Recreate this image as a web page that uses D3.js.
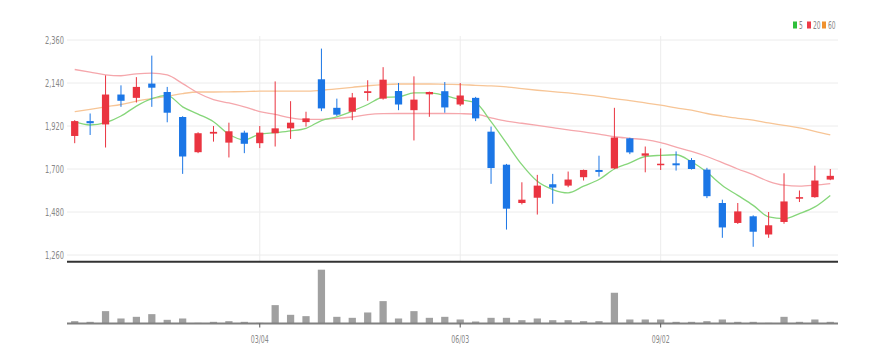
<!DOCTYPE html>
<html>
<head>
<meta charset="utf-8">
<script src="https://cdn.jsdelivr.net/npm/d3@7"></script>
<style>
  html, body { margin: 0; padding: 0; background: #fff; }
  svg { display: block; }
  text { font-family: "Liberation Sans Narrow", "DejaVu Sans Condensed", "Roboto", sans-serif; fill: #888; }
</style>
</head>
<body>
<svg id="chart" width="886" height="364"></svg>
<script>
// ---------- data ----------
const dates = ["12/11","12/18","12/25","01/01","01/08","01/15","01/22","01/29","02/05","02/12",
  "02/19","02/26","03/04","03/11","03/18","03/25","04/01","04/08","04/15","04/22",
  "04/29","05/06","05/13","05/20","05/27","06/03","06/10","06/17","06/24","07/01",
  "07/08","07/15","07/22","07/29","08/05","08/12","08/19","08/26","09/02","09/09",
  "09/16","09/23","09/30","10/07","10/14","10/21","10/28","11/04","11/11","11/18"];
const openP  = [1869,1945,1928,2081,2064,2137,2094,1966,1786,1881,1835,1886,1832,1883,1908,1940,2159,2013,1993,2089,
  2060,2099,2001,2082,2098,2030,2064,1891,1722,1526,1553,1622,1615,1658,1695,1703,1857,1768,1720,1729,
  1746,1697,1526,1424,1458,1365,1429,1548,1556,1646];
const highP  = [1950,1984,2179,2128,2170,2280,2120,1970,1888,1920,1937,1896,1920,2148,2047,1993,2316,2060,2089,2154,
  2221,2140,2174,2096,2145,2140,2069,1917,1726,1632,1670,1675,1687,1697,1768,2013,1860,1815,1805,1790,
  1756,1706,1543,1526,1463,1480,1678,1590,1717,1700];
const lowP   = [1832,1874,1810,2018,2040,2018,1939,1675,1781,1840,1759,1781,1807,1815,1854,1917,1996,1971,1950,2049,
  2055,2001,1846,1967,1988,2022,1945,1624,1390,1519,1467,1522,1607,1641,1661,1700,1776,1683,1695,1692,
  1697,1551,1348,1419,1302,1348,1420,1531,1553,1643];
const closeP = [1945,1934,2081,2049,2120,2116,1988,1764,1883,1890,1893,1829,1886,1908,1937,1959,2010,1978,2066,2098,
  2157,2030,2055,2094,2015,2076,1959,1705,1497,1543,1615,1605,1646,1695,1685,1861,1785,1780,1727,1719,
  1700,1561,1401,1483,1379,1412,1534,1556,1641,1665];
const volume = [7000,5000,37000,15000,20000,28000,11000,15000,2000,5000,7000,5000,2000,55000,26000,22000,161000,20000,17000,33000,
  67000,15000,37000,17000,20000,12000,6000,17000,17000,10000,15000,10000,10000,7000,7000,92000,12000,12000,12000,5000,
  5000,7000,12000,5000,5000,2000,20000,5000,12000,5000];
const ma5  = [1942,1925,1937,1971,2022,2060,2077,2018,1981,1942,1878,1849,1878,1886,1895,1908,1948,1967,1996,2030,
  2067,2069,2089,2089,2076,2055,2038,1942,1832,1722,1637,1595,1578,1612,1646,1700,1731,1764,1770,1773,
  1737,1683,1616,1565,1514,1455,1446,1472,1506,1565];
const ma20 = [2209,2196,2182,2177,2187,2191,2181,2137,2089,2055,2038,2018,1994,1979,1962,1954,1954,1959,1966,1978,
  1983,1984,1984,1984,1984,1983,1981,1962,1945,1934,1923,1912,1900,1890,1878,1865,1857,1850,1835,1812,
  1790,1764,1733,1700,1671,1637,1617,1612,1617,1625];
const ma60 = [1993,2005,2018,2030,2047,2060,2072,2086,2094,2094,2095,2096,2098,2098,2098,2098,2103,2110,2118,2126,
  2132,2135,2135,2135,2133,2132,2128,2125,2120,2111,2103,2096,2089,2081,2072,2060,2050,2038,2027,2013,
  2001,1984,1971,1959,1950,1936,1923,1910,1893,1874];
const priceTicks = [1260,1480,1700,1920,2140,2360];
const dateTicks = ["03/04","06/03","09/02"];
const maNames = ["5","20","60"];
const maColors = ["#86d67a","#f5a7ac","#f7c596"];
const legendColors = ["#2fbf3a","#ee3b48","#f0922e"];
const upColor = "#ea3440", downColor = "#1b76e6";

// ---------- layout ----------
const svg = d3.select("#chart");
const left = 67, right = 838;
const x = d3.scaleBand().domain(dates).range([left, right]).paddingInner(0.53).paddingOuter(0.265);
const cx = d => x(d) + x.bandwidth() / 2;
const y = d3.scaleLinear().domain([1260, 2360]).range([255, 40]);
const yv = d3.scaleLinear().domain([0, 161000]).range([323.5, 269.7]);

// grid (horizontal)
svg.append("g").selectAll("line").data(priceTicks).join("line")
  .attr("x1", left).attr("x2", right)
  .attr("y1", d => y(d)).attr("y2", d => y(d))
  .attr("stroke", "#ececec").attr("stroke-width", 1);
// grid (vertical)
svg.append("g").selectAll("line").data(dateTicks).join("line")
  .attr("x1", d => cx(d)).attr("x2", d => cx(d))
  .attr("y1", 36).attr("y2", 261)
  .attr("stroke", "#ececec").attr("stroke-width", 1);

// y axis labels
const yAxis = d3.axisLeft(y).tickValues(priceTicks).tickFormat(d3.format(",")).tickSize(0).tickPadding(3);
const gy = svg.append("g").attr("transform", `translate(${left},0)`).call(yAxis);
gy.select(".domain").remove();
gy.selectAll("text").attr("font-size", 11).attr("textLength", 19).attr("lengthAdjust", "spacingAndGlyphs")
  .style("font-family", "'Liberation Sans Narrow','DejaVu Sans Condensed',sans-serif").attr("fill", "#888");

// price pane bottom line
svg.append("line").attr("x1", left).attr("x2", right).attr("y1", 261.7).attr("y2", 261.7)
  .attr("stroke", "#333").attr("stroke-width", 2);

// MA lines
[ma60, ma20, ma5].forEach((arr, k) => {
  const col = maColors[2 - k];
  const line = d3.line().x((d, i) => cx(dates[i])).y(d => y(d)).curve(d3.curveMonotoneX);
  svg.append("path").datum(arr).attr("d", line).attr("fill", "none")
    .attr("stroke", col).attr("stroke-width", 1.3);
});

// candles
const idx = d3.range(dates.length);
const cg = svg.append("g");
cg.selectAll("line").data(idx).join("line")
  .attr("x1", i => cx(dates[i])).attr("x2", i => cx(dates[i]))
  .attr("y1", i => y(highP[i])).attr("y2", i => y(lowP[i]))
  .attr("stroke", i => closeP[i] >= openP[i] ? upColor : downColor).attr("stroke-width", 1);
cg.selectAll("rect").data(idx).join("rect")
  .attr("x", i => x(dates[i])).attr("width", x.bandwidth())
  .attr("y", i => y(Math.max(openP[i], closeP[i])))
  .attr("height", i => Math.max(1.5, Math.abs(y(openP[i]) - y(closeP[i]))))
  .attr("fill", i => closeP[i] >= openP[i] ? upColor : downColor);

// volume bars
svg.append("g").selectAll("rect").data(idx).join("rect")
  .attr("x", i => x(dates[i])).attr("width", x.bandwidth())
  .attr("y", i => yv(volume[i])).attr("height", i => yv(0) - yv(volume[i]))
  .attr("fill", "#a0a0a0");

// x axis
const xAxis = d3.axisBottom(x).tickValues(dateTicks).tickSize(4).tickPadding(8);
const gx = svg.append("g").attr("transform", "translate(0,323.5)").call(xAxis);
gx.select(".domain").attr("stroke", "#808080").attr("stroke-width", 2).attr("d", `M${left},0H${right}`);
gx.selectAll(".tick line").attr("stroke", "#555");
gx.selectAll("text").attr("font-size", 11).attr("textLength", 18).attr("lengthAdjust", "spacingAndGlyphs")
  .style("font-family", "'Liberation Sans Narrow','DejaVu Sans Condensed',sans-serif").attr("fill", "#888");

// legend
const lg = svg.append("g").attr("transform", "translate(793,25)");
const legX = [0, 14, 29];
maNames.forEach((n, i) => {
  lg.append("rect").attr("x", legX[i]).attr("y", -3.5).attr("width", 4).attr("height", 7).attr("fill", legendColors[i]);
  lg.append("text").attr("x", legX[i] + 6).attr("y", 3.5).attr("font-size", 10)
    .attr("textLength", n.length * 3.8).attr("lengthAdjust", "spacingAndGlyphs").attr("fill", "#888").text(n);
});
</script>
</body>
</html>
